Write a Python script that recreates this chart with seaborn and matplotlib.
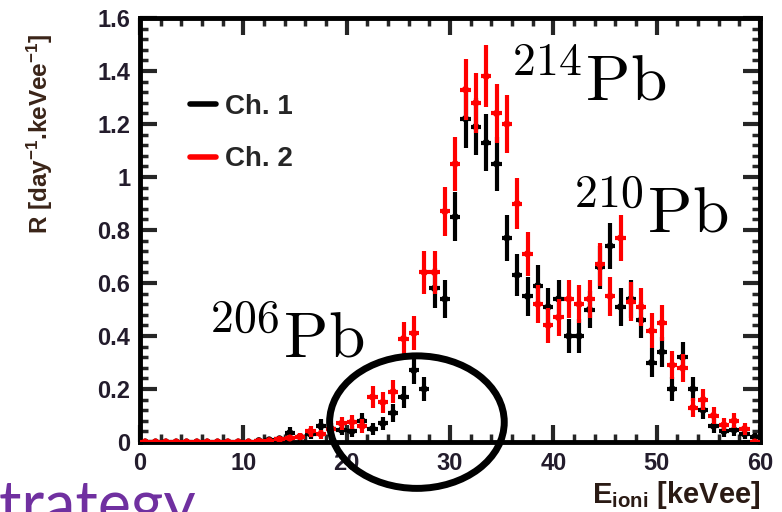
import numpy as np
import pandas as pd
import matplotlib
matplotlib.use("Agg")
import matplotlib.pyplot as plt
import seaborn as sns
from matplotlib.patches import Ellipse
from matplotlib.lines import Line2D
from matplotlib.ticker import MultipleLocator, FixedLocator

# ---- data ----
energy = np.arange(0.5, 60.0, 1.0)  # bin centres, keVee

ch1 = [0, 0, 0, 0, 0, 0, 0, 0, 0, 0,
       0.0, 0.005, 0.008, 0.012, 0.035, 0.02, 0.03, 0.06, 0.05, 0.045,
       0.04, 0.08, 0.05, 0.07, 0.11, 0.17, 0.27, 0.20, 0.58, 0.54,
       0.85, 1.22, 1.19, 1.13, 1.05, 0.77, 0.63, 0.55, 0.59, 0.51,
       0.54, 0.40, 0.40, 0.50, 0.66, 0.74, 0.51, 0.54, 0.46, 0.30,
       0.34, 0.20, 0.32, 0.20, 0.12, 0.06, 0.04, 0.045, 0.03, 0.02]
err1 = [0, 0, 0, 0, 0, 0, 0, 0, 0, 0,
        0.0, 0.008, 0.01, 0.012, 0.02, 0.015, 0.02, 0.025, 0.022, 0.02,
        0.02, 0.03, 0.022, 0.026, 0.033, 0.04, 0.05, 0.045, 0.075, 0.072,
        0.092, 0.11, 0.108, 0.106, 0.102, 0.088, 0.08, 0.074, 0.077, 0.071,
        0.073, 0.063, 0.063, 0.07, 0.081, 0.086, 0.071, 0.073, 0.068, 0.055,
        0.058, 0.045, 0.057, 0.045, 0.035, 0.025, 0.02, 0.021, 0.017, 0.014]

ch2 = [0, 0, 0, 0, 0, 0, 0, 0, 0, 0,
       0.0, 0.003, 0.005, 0.01, 0.015, 0.02, 0.04, 0.03, 0.05, 0.07,
       0.075, 0.06, 0.17, 0.15, 0.19, 0.39, 0.41, 0.64, 0.64, 0.87,
       1.05, 1.33, 1.28, 1.38, 1.24, 1.20, 0.90, 0.71, 0.52, 0.44,
       0.47, 0.54, 0.52, 0.54, 0.67, 0.55, 0.77, 0.53, 0.51, 0.42,
       0.45, 0.29, 0.28, 0.13, 0.16, 0.10, 0.065, 0.08, 0.05, 0.0]
err2 = [0, 0, 0, 0, 0, 0, 0, 0, 0, 0,
        0.0, 0.005, 0.007, 0.01, 0.012, 0.014, 0.02, 0.017, 0.022, 0.026,
        0.027, 0.025, 0.041, 0.039, 0.044, 0.062, 0.064, 0.08, 0.08, 0.093,
        0.102, 0.115, 0.113, 0.117, 0.111, 0.11, 0.095, 0.084, 0.072, 0.066,
        0.069, 0.073, 0.072, 0.073, 0.082, 0.074, 0.088, 0.073, 0.071, 0.065,
        0.067, 0.054, 0.053, 0.036, 0.04, 0.032, 0.025, 0.028, 0.022, 0.0]

series_names = ["Ch. 1", "Ch. 2"]
series_colors = ["#000000", "#ff0000"]

x_ticks = [0, 10, 20, 30, 40, 50, 60]
x_ticklabels = ["0", "10", "20", "30", "40", "50", "60"]
y_ticks = [0, 0.2, 0.4, 0.6, 0.8, 1.0, 1.2, 1.4, 1.6]
y_ticklabels = ["0", "0.2", "0.4", "0.6", "0.8", "1", "1.2", "1.4", "1.6"]

peak_labels = [r"$^{\mathrm{214}}\mathrm{Pb}$", r"$^{\mathrm{210}}\mathrm{Pb}$", r"$^{\mathrm{206}}\mathrm{Pb}$"]
peak_label_pos = [(35.8, 1.29), (41.8, 0.79), (6.6, 0.32)]

df = pd.DataFrame({
    "E": np.concatenate([energy, energy]),
    "R": ch1 + ch2,
    "err": err1 + err2,
    "ch": [series_names[0]] * len(ch1) + [series_names[1]] * len(ch2),
})

# ---- style ----
sns.set_theme(style="white")
plt.rcParams["font.family"] = ["Liberation Sans", "DejaVu Sans"]
plt.rcParams["mathtext.fontset"] = "custom"
plt.rcParams["mathtext.rm"] = "Liberation Sans"
plt.rcParams["mathtext.bf"] = "Liberation Sans:bold"
plt.rcParams["mathtext.default"] = "bf"

W, H = 782, 512
fig = plt.figure(figsize=(W / 100, H / 100), dpi=100)
ax = fig.add_axes([140 / W, 70 / H, 620 / W, 424 / H])

for i, (name, col) in enumerate(zip(series_names, series_colors)):
    sub = df[df["ch"] == name]
    ax.errorbar(sub["E"], sub["R"], yerr=sub["err"], xerr=0.5, fmt="none",
                ecolor=col, elinewidth=3.0, capsize=0, zorder=2 + 2 * i)
    sns.scatterplot(data=sub, x="E", y="R", color=col, s=26, edgecolor="none",
                    legend=False, ax=ax, zorder=3 + 2 * i)

ax.set_xlim(0, 60)
ax.set_ylim(0, 1.6)
ax.xaxis.set_major_locator(FixedLocator(x_ticks))
ax.set_xticklabels(x_ticklabels)
ax.yaxis.set_major_locator(FixedLocator(y_ticks))
ax.set_yticklabels(y_ticklabels)
ax.xaxis.set_minor_locator(MultipleLocator(2))
ax.yaxis.set_minor_locator(MultipleLocator(0.04))
ax.set_xlabel("")
ax.set_ylabel("")

tick_col = "#231c2c"
ax.tick_params(which="major", direction="in", length=12, width=3,
               top=True, right=True, bottom=True, left=True,
               labelsize=17, labelcolor=tick_col, pad=7)
ax.tick_params(which="minor", direction="in", length=6, width=2.5,
               top=True, right=True, bottom=True, left=True)
for lab in ax.get_xticklabels() + ax.get_yticklabels():
    lab.set_fontweight("bold")
for sp in ax.spines.values():
    sp.set_linewidth(3.5)
    sp.set_color("black")

# legend
handles = [Line2D([0], [0], color=c, lw=4) for c in series_colors]
ax.legend(handles, series_names, loc="upper left", bbox_to_anchor=(0.04, 0.88),
          frameon=False, handlelength=0.95, handletextpad=0.3, labelspacing=0.95,
          prop={"weight": "bold", "size": 20})

# peak annotations
for txt, (xx, yy) in zip(peak_labels, peak_label_pos):
    ax.text(xx, yy, txt, fontsize=47, math_fontfamily="cm", color="black",
            ha="left", va="baseline", zorder=8)

# highlight ellipse
ax.add_patch(Ellipse((26.8, 0.075), width=16.9, height=0.50, fill=False,
                     lw=5, ec="black", clip_on=False, zorder=10))

# axis titles
fig.text(40 / W, 1 - 134 / H, r"R [day$^{-1}$.keVee$^{-1}$]", rotation=90,
         ha="center", va="center", fontsize=17.5, fontweight="bold", color="#3a2418")
fig.text(592 / W, 1 - 503 / H, r"E$_{ioni}$ [keVee]", ha="left", va="baseline",
         fontsize=21, fontweight="bold", color="#2a1a14")

# slide text partially cut off (as in the reference)
fig.text(197 / W, 1 - 527 / H, "Strategy", ha="right", va="baseline",
         fontsize=45, color="#7030a0", family=["Lato", "DejaVu Sans"])

fig.savefig("out.png", dpi=100)
